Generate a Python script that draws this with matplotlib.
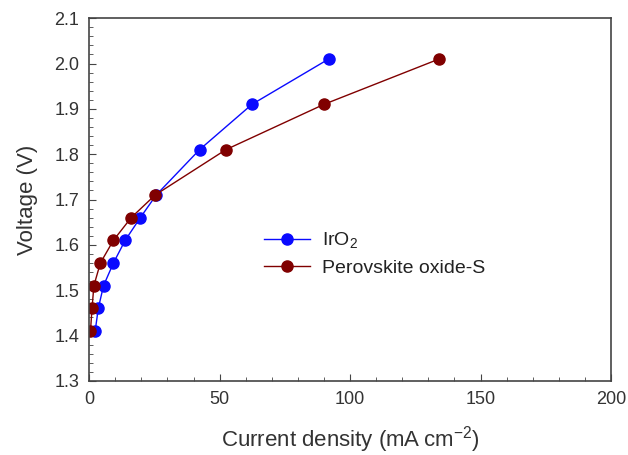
import matplotlib
matplotlib.use("Agg")
import matplotlib.pyplot as plt
from matplotlib.ticker import MultipleLocator

plt.rcParams['font.family'] = ['Liberation Sans', 'DejaVu Sans']
plt.rcParams['mathtext.default'] = 'regular'

voltage = [1.41, 1.46, 1.51, 1.56, 1.61, 1.66, 1.71, 1.81, 1.91, 2.01]
iro2_current = [2.3, 3.5, 5.5, 9.3, 13.8, 19.6, 25.7, 42.3, 62.4, 91.8]
perov_current = [0.5, 1.1, 1.8, 4.3, 9.3, 16.1, 25.3, 52.4, 90.0, 134.1]

fig = plt.figure(figsize=(6.28, 4.55), dpi=100)
ax = fig.add_axes([0.142, 0.163, 0.831, 0.797])

ax.plot(iro2_current, voltage, '-o', color='#0a0aff', lw=1.0, ms=8,
        label='IrO$_2$')
ax.plot(perov_current, voltage, '-o', color='#800000', lw=1.0, ms=8,
        label='Perovskite oxide-S')

ax.set_xlim(0, 200)
ax.set_ylim(1.3, 2.1)
ax.xaxis.set_major_locator(MultipleLocator(50))
ax.xaxis.set_minor_locator(MultipleLocator(10))
ax.yaxis.set_major_locator(MultipleLocator(0.1))
ax.yaxis.set_minor_locator(MultipleLocator(0.02))
ax.yaxis.set_major_formatter(matplotlib.ticker.FormatStrFormatter('%.1f'))

for s in ax.spines.values():
    s.set_color('#444444')
    s.set_linewidth(1.2)

ax.tick_params(which='both', direction='in', top=False, right=False,
               colors='#444444', labelcolor='#333333', labelsize=13)
ax.tick_params(which='major', length=5, pad=7)
ax.tick_params(which='minor', length=3)

ax.set_xlabel('Current density (mA\u2009cm$^{-2}$)', fontsize=16, color='#333333', labelpad=12)
ax.set_ylabel('Voltage (V)', fontsize=16, color='#333333', labelpad=12)

ax.legend(loc='center left', bbox_to_anchor=(0.335, 0.351), frameon=False,
          fontsize=14, handlelength=2.37, handletextpad=0.62, borderpad=0,
          borderaxespad=0, labelspacing=0.45, labelcolor='#222222')

fig.savefig('out.png', dpi=100)
